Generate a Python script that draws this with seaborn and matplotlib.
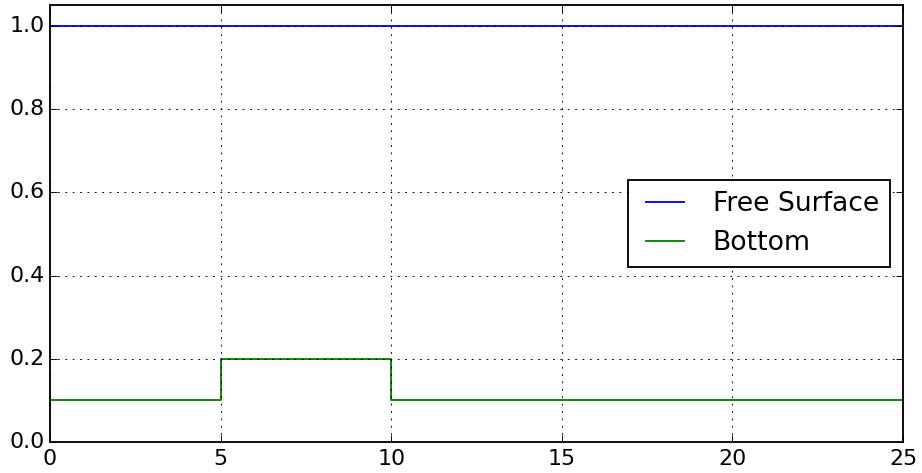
import numpy as np
import pandas as pd
import matplotlib
matplotlib.use("Agg")
import matplotlib.pyplot as plt
import seaborn as sns

# Free surface elevation along the channel
surface_x = [0.0, 25.0]
surface_y = [1.0, 1.0]

# Bed profile with a rectangular bump between x = 5 and x = 10
bottom_x = [0.0, 5.0, 5.0, 10.0, 10.0, 25.0]
bottom_y = [0.1, 0.1, 0.2, 0.2, 0.1, 0.1]

series_names = ["Free Surface", "Bottom"]
x_ticks = [0, 5, 10, 15, 20, 25]
y_ticks = [0.0, 0.2, 0.4, 0.6, 0.8, 1.0]

plt.style.use("classic")
plt.rcParams["font.family"] = ["DejaVu Sans"]
plt.rcParams["font.size"] = 12

DPI = 133
fig = plt.figure(figsize=(923 / DPI, 473 / DPI), dpi=DPI, facecolor="white")
ax = fig.add_axes([50 / 923, 1 - 442 / 473, (903 - 50) / 923, (442 - 5) / 473])

surface = pd.DataFrame({"x": surface_x, "y": surface_y})
bottom = pd.DataFrame({"x": bottom_x, "y": bottom_y})

sns.lineplot(data=surface, x="x", y="y", ax=ax, color="b", sort=False,
             estimator=None, label=series_names[0])
sns.lineplot(data=bottom, x="x", y="y", ax=ax, color="g", sort=False,
             estimator=None, label=series_names[1])

ax.set_xlim(0, 25)
ax.set_ylim(0, 1.05)
ax.set_xticks(x_ticks)
ax.set_yticks(y_ticks)
ax.tick_params(axis="y", pad=3)
ax.set_xlabel("")
ax.set_ylabel("")
ax.grid(True)
ax.legend(loc="center right")

fig.savefig("out.png", dpi=DPI, facecolor="white")
